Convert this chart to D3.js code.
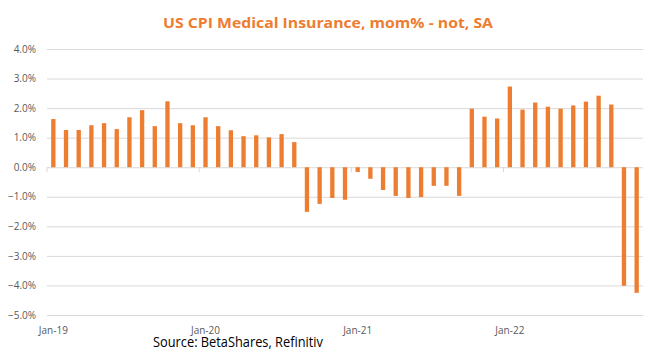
<!DOCTYPE html>
<html>
<head>
<meta charset="utf-8">
<script src="https://cdn.jsdelivr.net/npm/d3@7"></script>
<style>
  body { margin: 0; background: #fff; }
  svg { display: block; }
  .grid line { stroke: #d9d9d9; }
  .grid .domain { display: none; }
  .ylab text, .xlab text { fill: #595959; font-family: "Open Sans", "Liberation Sans", sans-serif; font-size: 10px; }
</style>
</head>
<body>
<svg width="657" height="361"></svg>
<script>
// monthly categories, Jan-19 .. Nov-22
const months = [
  'Jan-19','Feb-19','Mar-19','Apr-19','May-19','Jun-19','Jul-19','Aug-19','Sep-19','Oct-19','Nov-19','Dec-19',
  'Jan-20','Feb-20','Mar-20','Apr-20','May-20','Jun-20','Jul-20','Aug-20','Sep-20','Oct-20','Nov-20','Dec-20',
  'Jan-21','Feb-21','Mar-21','Apr-21','May-21','Jun-21','Jul-21','Aug-21','Sep-21','Oct-21','Nov-21','Dec-21',
  'Jan-22','Feb-22','Mar-22','Apr-22','May-22','Jun-22','Jul-22','Aug-22','Sep-22','Oct-22','Nov-22'
];
// mom % change
const momPct = [
  1.63, 1.26, 1.26, 1.42, 1.49, 1.29, 1.69, 1.93, 1.39, 2.23, 1.49, 1.42,
  1.69, 1.39, 1.25, 1.05, 1.08, 1.01, 1.12, 0.85, -1.51, -1.24, -1.04, -1.10,
  -0.16, -0.39, -0.77, -0.97, -1.04, -1.01, -0.63, -0.63, -0.97, 1.98, 1.71, 1.65,
  2.73, 1.95, 2.19, 2.05, 1.98, 2.09, 2.22, 2.42, 2.12, -4.01, -4.25
];
const yTicks = [4, 3, 2, 1, 0, -1, -2, -3, -4, -5];
const xLabels = ['Jan-19', 'Jan-20', 'Jan-21', 'Jan-22'];

const svg = d3.select('svg');
const plotL = 47, plotR = 643, plotT = 49, plotB = 315;
const orange = '#ED7D31';

const x = d3.scaleBand().domain(months).range([plotL, plotR]).paddingInner(0.66).paddingOuter(0.33);
const y = d3.scaleLinear().domain([-5, 4]).range([plotB, plotT]);

// gridlines + y labels
svg.append('g')
  .attr('class', 'grid')
  .attr('transform', `translate(${plotL},0)`)
  .call(d3.axisLeft(y).tickValues(yTicks).tickSize(-(plotR - plotL)).tickFormat(''));

svg.append('g')
  .attr('class', 'ylab')
  .attr('transform', `translate(${plotL},0)`)
  .call(d3.axisLeft(y).tickValues(yTicks).tickSize(0).tickPadding(11)
    .tickFormat(d => d3.format('.1%')(d / 100)))
  .call(g => g.select('.domain').remove());

// bars
svg.append('g')
  .selectAll('rect')
  .data(momPct)
  .join('rect')
  .attr('x', (d, i) => x(months[i]))
  .attr('width', x.bandwidth())
  .attr('y', d => Math.min(y(d), y(0)))
  .attr('height', d => Math.abs(y(d) - y(0)))
  .attr('fill', orange);

// year tick marks on the zero line
const step = x.step();
svg.append('g')
  .selectAll('line')
  .data(xLabels)
  .join('line')
  .attr('x1', d => x(d) - step * 0.33)
  .attr('x2', d => x(d) - step * 0.33)
  .attr('y1', y(0))
  .attr('y2', y(0) + 5)
  .attr('stroke', '#d9d9d9');

// x labels
svg.append('g')
  .attr('class', 'xlab')
  .attr('transform', `translate(0,${plotB})`)
  .call(d3.axisBottom(x).tickValues(xLabels).tickSize(0).tickPadding(11.5))
  .call(g => g.select('.domain').remove());

// title
svg.append('text')
  .attr('x', 328)
  .attr('y', 28)
  .attr('text-anchor', 'middle')
  .attr('font-family', '"Open Sans", "Liberation Sans", sans-serif')
  .attr('font-weight', 'bold')
  .attr('font-size', 15)
  .attr('fill', orange)
  .attr('textLength', 330)
  .attr('lengthAdjust', 'spacingAndGlyphs')
  .text('US CPI Medical Insurance, mom% - not, SA');

// source
svg.append('text')
  .attr('x', 153)
  .attr('y', 346.5)
  .attr('font-family', '"Open Sans", "Liberation Sans", sans-serif')
  .attr('font-size', 14)
  .attr('fill', '#000')
  .attr('textLength', 170)
  .attr('lengthAdjust', 'spacingAndGlyphs')
  .text('Source: BetaShares, Refinitiv');
</script>
</body>
</html>
